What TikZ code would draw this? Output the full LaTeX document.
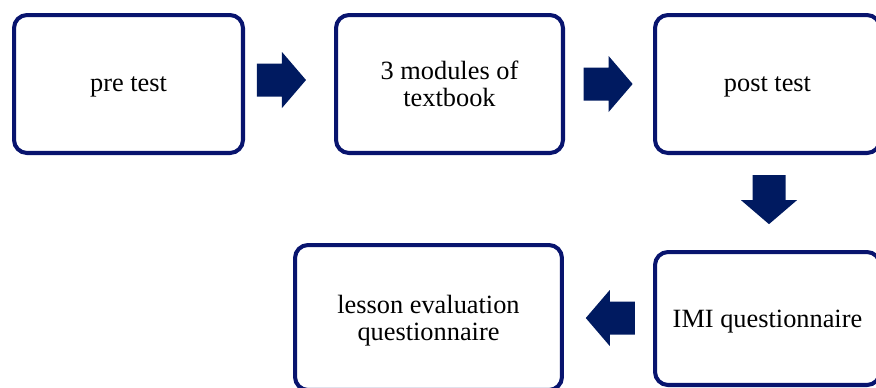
\documentclass[tikz,border=0pt]{standalone}
\usepackage{fontspec}
\setmainfont{Liberation Serif}
\usepackage{tikz}
\usetikzlibrary{
  calc,      % 坐标计算（箭头放在两框之间）
  positioning % 节点相对定位
}
\definecolor{boxnavy}{RGB}{8,20,110}
\definecolor{arrownavy}{RGB}{0,26,96}
\tikzset{
  stagebox/.style={
    draw=boxnavy,
    line width=2.3pt,
    rounded corners=0.26cm,
    fill=white,
    align=center,
    inner sep=2pt,
    text depth=0pt,
    font=\fontsize{15}{15.5}\selectfont
  },
  blockarrow/.pic={
    \fill[arrownavy] (-24.5,-16.5) -- (0.5,-16.5) -- (0.5,-28) -- (24.5,0)
      -- (0.5,28) -- (0.5,16.5) -- (-24.5,16.5) -- cycle;
  }
}

\begin{document}
\begin{tikzpicture}[x=0.02cm, y=-0.02cm] % 以像素为单位，y 轴向下

  \useasboundingbox (0,0) rectangle (876,387); % 固定画布大小

  % 上排三个框
  \node[stagebox, minimum width=4.58cm, minimum height=2.76cm] (pre) at (128.5,84) {pre test}; % 前测
  \node[stagebox, minimum width=4.54cm, minimum height=2.76cm] (modules) at (449.5,84) {3 modules of\\textbook}; % 教材模块
  \node[stagebox, minimum width=4.5cm, minimum height=2.76cm] (post) at (767.5,84) {post test}; % 后测

  % 下排两个框
  \node[stagebox, minimum width=4.5cm, minimum height=2.66cm] (imi) at (767.5,318.5) {IMI questionnaire}; % IMI 问卷
  \node[stagebox, minimum width=5.34cm, minimum height=2.9cm] (lesson) at (428.5,317.5) {lesson evaluation\\questionnaire}; % 课程评价问卷

  % 框与框之间的粗箭头
  \pic at ($($(pre.east)!0.41!(modules.west)$)+(0,-4)$) {blockarrow}; % 前测 -> 模块
  \pic at ($(modules.east)!0.49!(post.west)$) {blockarrow}; % 模块 -> 后测
  \pic[rotate=-90] at ($($(post.south)!0.47!(imi.north)$)+(1.5,0)$) {blockarrow}; % 后测 -> IMI
  \pic[rotate=180] at ($(imi.west)!0.48!(lesson.east)$) {blockarrow}; % IMI -> 课程评价

\end{tikzpicture}
\end{document}
